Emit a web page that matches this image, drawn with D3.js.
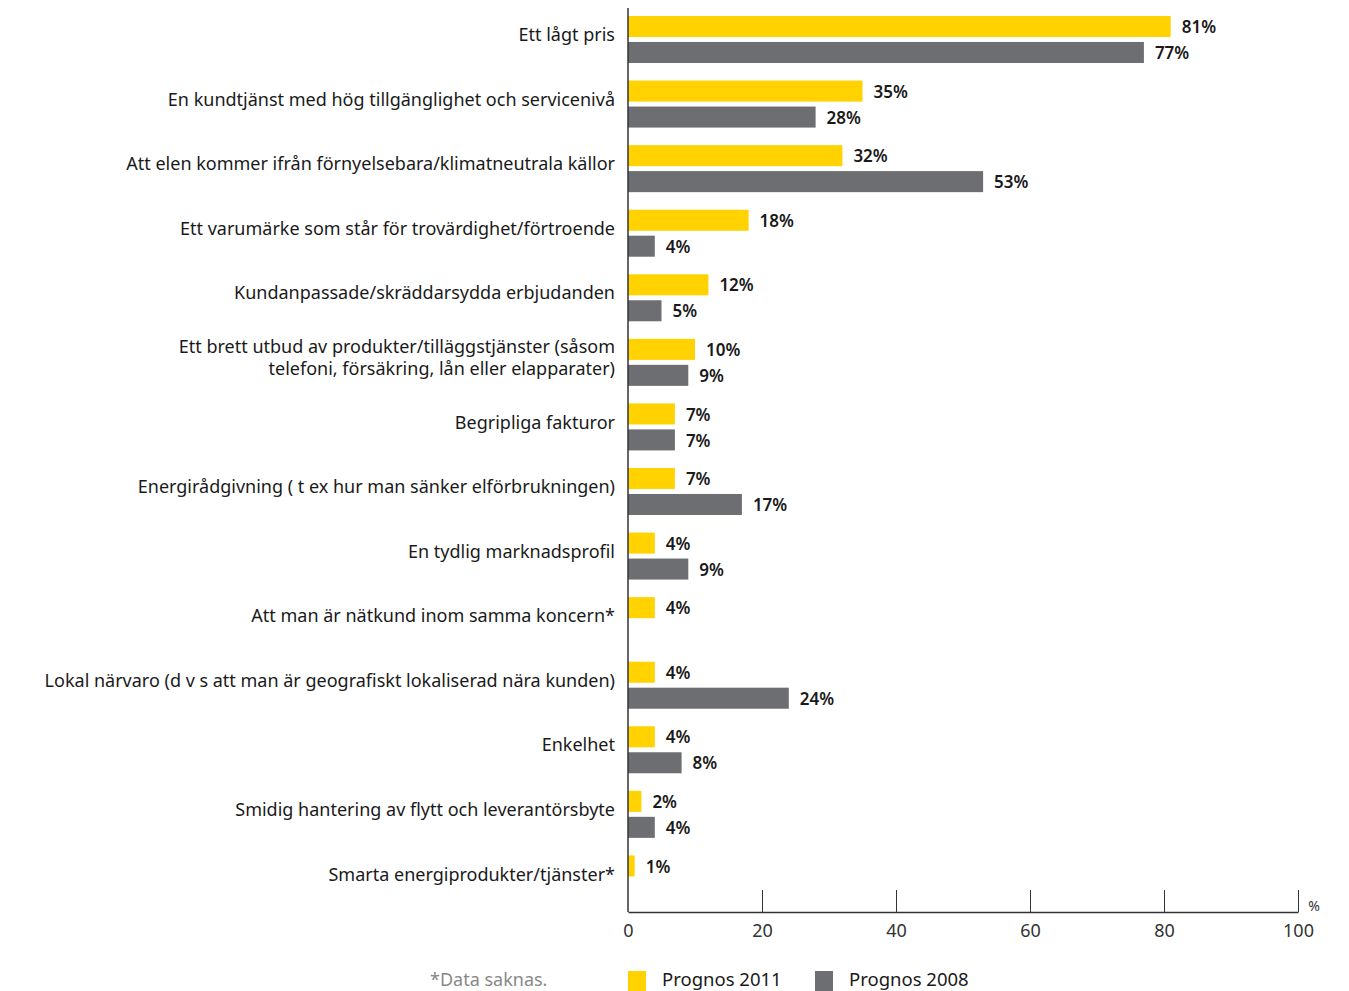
<!DOCTYPE html>
<html>
<head>
<meta charset="utf-8">
<script src="https://cdn.jsdelivr.net/npm/d3@7"></script>
<style>
  body { margin: 0; background: #fff; }
  text { font-family: "Noto Sans", sans-serif; }
</style>
</head>
<body>
<script>
// categories (top to bottom), "\n" splits a label in two lines
const categories = [
  "Ett lågt pris",
  "En kundtjänst med hög tillgänglighet och servicenivå",
  "Att elen kommer ifrån förnyelsebara/klimatneutrala källor",
  "Ett varumärke som står för trovärdighet/förtroende",
  "Kundanpassade/skräddarsydda erbjudanden",
  "Ett brett utbud av produkter/tilläggstjänster  (såsom\ntelefoni, försäkring, lån eller elapparater)",
  "Begripliga fakturor",
  "Energirådgivning  ( t ex hur man sänker elförbrukningen)",
  "En tydlig marknadsprofil",
  "Att man är nätkund inom samma koncern*",
  "Lokal närvaro  (d v s att man är geografiskt lokaliserad nära kunden)",
  "Enkelhet",
  "Smidig hantering av flytt och leverantörsbyte",
  "Smarta energiprodukter/tjänster*"
]
const prognos2011 = [81, 35, 32, 18, 12, 10, 7, 7, 4, 4, 4, 4, 2, 1]
const prognos2008 = [77, 28, 53, 4, 5, 9, 7, 17, 9, null, 24, 8, 4, null]
const seriesNames = ["Prognos 2011", "Prognos 2008"]
const xTicks = [0, 20, 40, 60, 80, 100]

const colors = { "Prognos 2011": "#FFD200", "Prognos 2008": "#6D6E71" }

const W = 1349, H = 991
const svg = d3.select("body").append("svg")
    .attr("width", W)
    .attr("height", H)

const x = d3.scaleLinear().domain([0, 100]).range([628, 1298])
const y = d3.scaleBand().domain(categories).range([8, 912])
const ySub = d3.scaleBand().domain(seriesNames).range([8, 55]).paddingInner(0.19)

const rows = categories.map((c, i) => ({
  cat: c,
  values: [
    { s: "Prognos 2011", v: prognos2011[i] },
    { s: "Prognos 2008", v: prognos2008[i] }
  ].filter(d => d.v != null)
}))

const row = svg.selectAll(".row")
    .data(rows)
    .enter()
    .append("g")
        .attr("class", "row")
        .attr("transform", d => "translate(0," + y(d.cat) + ")")

row.selectAll("rect")
    .data(d => d.values)
    .enter()
    .append("rect")
        .attr("x", x(0))
        .attr("y", d => ySub(d.s))
        .attr("width", d => x(d.v) - x(0))
        .attr("height", ySub.bandwidth())
        .attr("fill", d => colors[d.s])

row.selectAll(".val")
    .data(d => d.values)
    .enter()
    .append("text")
        .attr("class", "val")
        .attr("x", d => x(d.v) + 11)
        .attr("y", d => ySub(d.s) + ySub.bandwidth() / 2 + 2)
        .attr("dominant-baseline", "middle")
        .attr("font-size", 17)
        .attr("font-weight", 600)
        .attr("fill", "#1a1a1a")
        .text(d => d.v + "%")

// category labels
row.append("text")
    .attr("class", "cat")
    .attr("text-anchor", "end")
    .attr("font-size", 18)
    .attr("fill", "#1a1a1a")
    .each(function(d) {
      const lines = d.cat.split("\n")
      const mid = y.bandwidth() / 2 - 4
      const lh = 22
      lines.forEach((l, k) => {
        d3.select(this).append("tspan")
            .attr("x", 615)
            .attr("y", mid + (k - (lines.length - 1) / 2) * lh)
            .attr("dominant-baseline", "middle")
            .text(l)
      })
    })

// axes
svg.append("line")
    .attr("x1", x(0)).attr("x2", x(0))
    .attr("y1", 8).attr("y2", 912)
    .attr("stroke", "#333").attr("stroke-width", 1.5)

const xAxis = d3.axisBottom(x).tickValues(xTicks).tickSize(0).tickPadding(12)
const gx = svg.append("g")
    .attr("transform", "translate(0,912)")
    .call(xAxis)
gx.select(".domain").attr("stroke", "#333").attr("stroke-width", 1.5)
gx.selectAll(".tick text")
    .attr("font-family", "Noto Sans, sans-serif")
    .attr("font-size", 18)
    .attr("fill", "#333")
gx.selectAll(".tick")
    .filter(d => d > 0)
    .append("line")
        .attr("y1", 0).attr("y2", -22)
        .attr("stroke", "#333").attr("stroke-width", 1)

svg.append("text")
    .attr("x", x(100) + 16)
    .attr("y", 907)
    .attr("dominant-baseline", "middle")
    .attr("text-anchor", "middle")
    .attr("font-size", 14)
    .attr("fill", "#333")
    .text("%")

// legend
svg.append("text")
    .attr("x", 430)
    .attr("y", 981)
    .attr("dominant-baseline", "middle")
    .attr("font-size", 18)
    .attr("fill", "#888")
    .text("*Data saknas.")

const legendX = [628, 815]
const leg = svg.selectAll(".leg")
    .data(seriesNames)
    .enter()
    .append("g")
        .attr("class", "leg")
        .attr("transform", (d, i) => "translate(" + legendX[i] + ",971)")
leg.append("rect")
    .attr("width", 18).attr("height", 20)
    .attr("fill", d => colors[d])
leg.append("text")
    .attr("x", 34).attr("y", 10)
    .attr("dominant-baseline", "middle")
    .attr("font-size", 18.5)
    .attr("fill", "#1a1a1a")
    .text(d => d)
</script>
</body>
</html>
